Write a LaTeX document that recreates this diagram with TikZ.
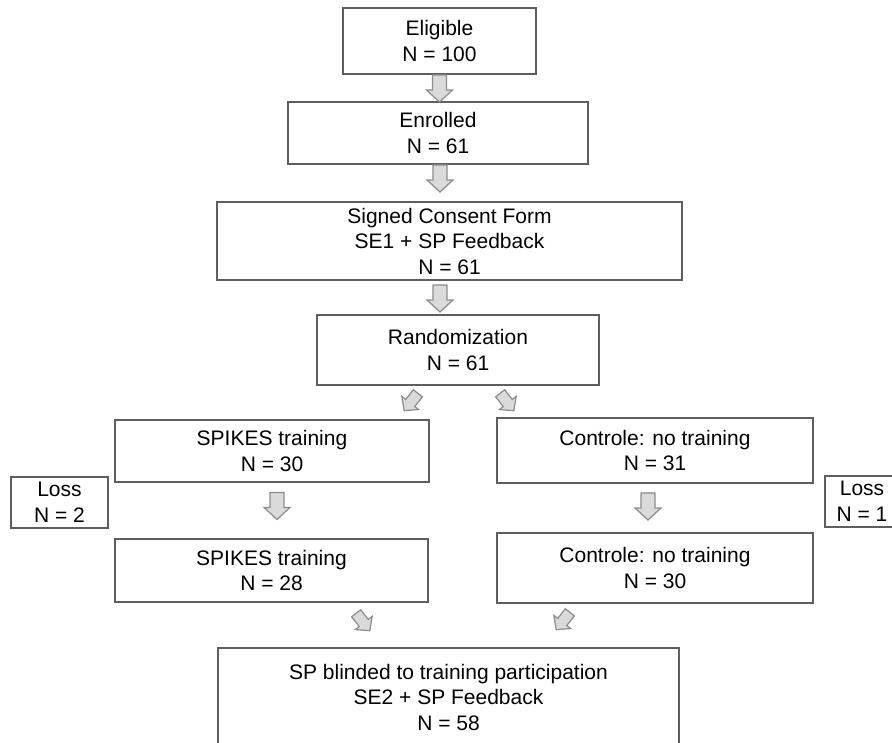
\documentclass[tikz,border=0pt]{standalone}
\usepackage{fontspec}
\setmainfont{Liberation Sans}
\begin{document}
\begin{tikzpicture}[x=1pt,y=1pt,
  box/.style={draw=boxgray, line width=1.5pt, fill=white, align=center,
    inner sep=0pt, font=\fontsize{21}{25.5}\selectfont},
  arrowshape/.style={draw=arrgray, fill=arrfill, line width=1.2pt, line join=miter},
  barrow/.pic={\path[arrowshape] (-13.5,-7) -- (1.5,-7) -- (1.5,-13) -- (13.5,0) -- (1.5,13) -- (1.5,7) -- (-13.5,7) -- cycle;}
]
\definecolor{boxgray}{HTML}{5E5E5E}
\definecolor{arrgray}{HTML}{8C8C8C}
\definecolor{arrfill}{HTML}{DADADA}
\useasboundingbox (0,0) rectangle (892,-743);
\clip (0,0) rectangle (892,-743);
\fill[white] (0,0) rectangle (892,-743);

\node[box, minimum width=193pt, minimum height=66pt] (elig) at (439.5,-41) {Eligible\\N = 100};
\node[box, minimum width=300pt, minimum height=62pt] (enr) at (438,-133) {Enrolled\\N = 61};
\node[box, minimum width=465pt, minimum height=78pt] (cons) at (449.5,-241) {Signed Consent Form\\SE1 + SP Feedback\\N = 61};
\node[box, minimum width=282pt, minimum height=70pt] (rand) at (458,-350) {Randomization\\N = 61};
\node[box, minimum width=314pt, minimum height=62pt] (sp1) at (272,-451) {SPIKES training\\N = 30};
\node[box, minimum width=316pt, minimum height=65pt] (co1) at (655,-450.5) {Controle: no training\\N = 31};
\node[box, minimum width=97pt, minimum height=51pt] (lossL) at (59.5,-502.5) {Loss\\N = 2};
\node[box, minimum width=74pt, minimum height=51pt] (lossR) at (862,-501.5) {Loss\\N = 1};
\node[box, minimum width=313pt, minimum height=63pt] (sp2) at (271.5,-570.5) {SPIKES training\\N = 28};
\node[box, minimum width=316pt, minimum height=70pt] (co2) at (655,-568) {Controle: no training\\N = 30};
\node[box, minimum width=461pt, minimum height=98pt] (bot) at (448.5,-697) {SP blinded to training participation\\SE2 + SP Feedback\\N = 58};

% block arrows
\pic[rotate=-90] (a1) at (439.5,-88.5) {barrow};
\pic[rotate=-90] (a2) at (440,-178.5) {barrow};
\pic[rotate=-90] (a3) at (440,-298.5) {barrow};
\pic[rotate=232, scale=0.82] (a4) at (411,-402) {barrow};
\pic[rotate=308, scale=0.82] (a5) at (507,-402) {barrow};
\pic[rotate=-90] (a6) at (277,-506) {barrow};
\pic[rotate=-90] (a7) at (648,-506.5) {barrow};
\pic[rotate=308, scale=0.82] (a8) at (363,-622) {barrow};
\pic[rotate=232, scale=0.82] (a9) at (563,-621) {barrow};
\end{tikzpicture}
\end{document}
